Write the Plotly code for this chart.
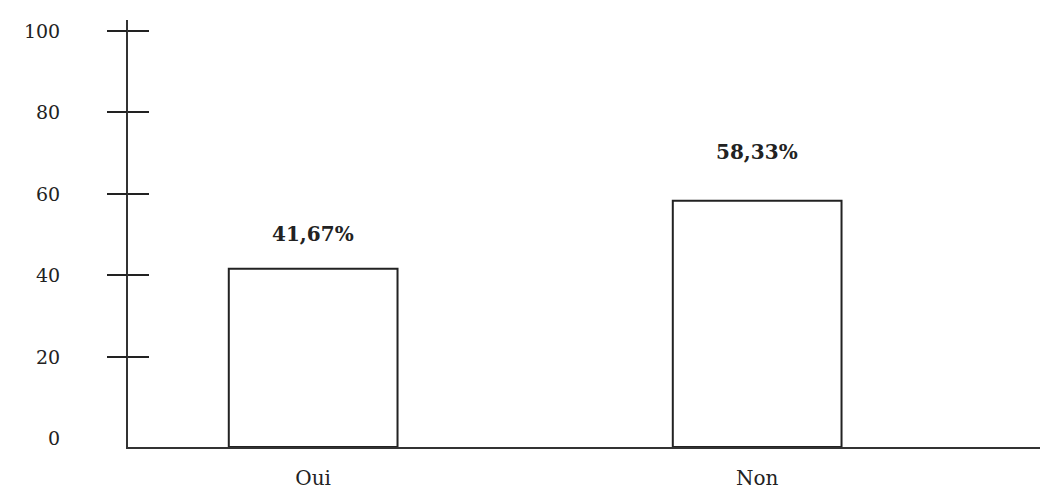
import plotly.graph_objects as go

categories = ["Oui", "Non"]
values = [41.67, 58.33]
labels = ["41,67%", "58,33%"]
tick_vals = [0, 20, 40, 60, 80, 100]
tick_text = ["0", "20", "40", "60", "80", "100"]

y_min = -2.1
y_max = 102.7
serif = "DejaVu Serif, Liberation Serif, serif"

fig = go.Figure()
fig.add_trace(go.Bar(
    x=categories,
    y=[v - y_min for v in values],
    base=y_min,
    width=0.38,
    marker=dict(color="white", line=dict(color="#222", width=2)),
    hoverinfo="skip",
))

# value labels above each bar
shifts = [35, 49]
for c, v, t, s in zip(categories, values, labels, shifts):
    fig.add_annotation(x=c, y=v, text="<b>%s</b>" % t, showarrow=False,
                       yshift=s, font=dict(family=serif, size=20, color="#222"))

fig.update_layout(
    width=1046, height=491,
    margin=dict(l=128, r=6, t=20, b=44, autoexpand=False),
    plot_bgcolor="white", paper_bgcolor="white",
    showlegend=False,
    xaxis=dict(
        type="category", range=[-0.417, 1.637], automargin=False,
        showline=True, linecolor="#333", linewidth=2,
        showgrid=False, ticks="outside", ticklen=12, tickcolor="rgba(0,0,0,0)",
        tickfont=dict(family=serif, size=20, color="#222"),
    ),
    yaxis=dict(
        range=[y_min, y_max], tickvals=tick_vals, ticktext=tick_text,
        automargin=False,
        showline=True, linecolor="#333", linewidth=2,
        showgrid=False, zeroline=False,
        ticks="outside", ticklen=62, tickcolor="rgba(0,0,0,0)",
        tickfont=dict(family=serif, size=19, color="#222"),
    ),
    # overlay axes to draw tick marks crossing the axis line
    yaxis2=dict(
        overlaying="y", side="left", range=[y_min, y_max], automargin=False,
        tickvals=tick_vals[1:], showticklabels=False, showgrid=False,
        zeroline=False, ticks="outside", ticklen=20, tickwidth=1.5, tickcolor="#222",
    ),
    yaxis3=dict(
        overlaying="y", side="left", range=[y_min, y_max], automargin=False,
        tickvals=tick_vals[1:], showticklabels=False, showgrid=False,
        zeroline=False, ticks="inside", ticklen=21, tickwidth=1.5, tickcolor="#222",
    ),
)
# dummy traces so overlay axes render
fig.add_trace(go.Scatter(x=[categories[0]], y=[None], yaxis="y2", showlegend=False))
fig.add_trace(go.Scatter(x=[categories[0]], y=[None], yaxis="y3", showlegend=False))

# drop the default page margin so the figure sits at the window's corner
fig.write_html("out.html", config={"displayModeBar": False},
               post_script="document.body.style.margin='0';document.body.style.overflow='hidden';")
